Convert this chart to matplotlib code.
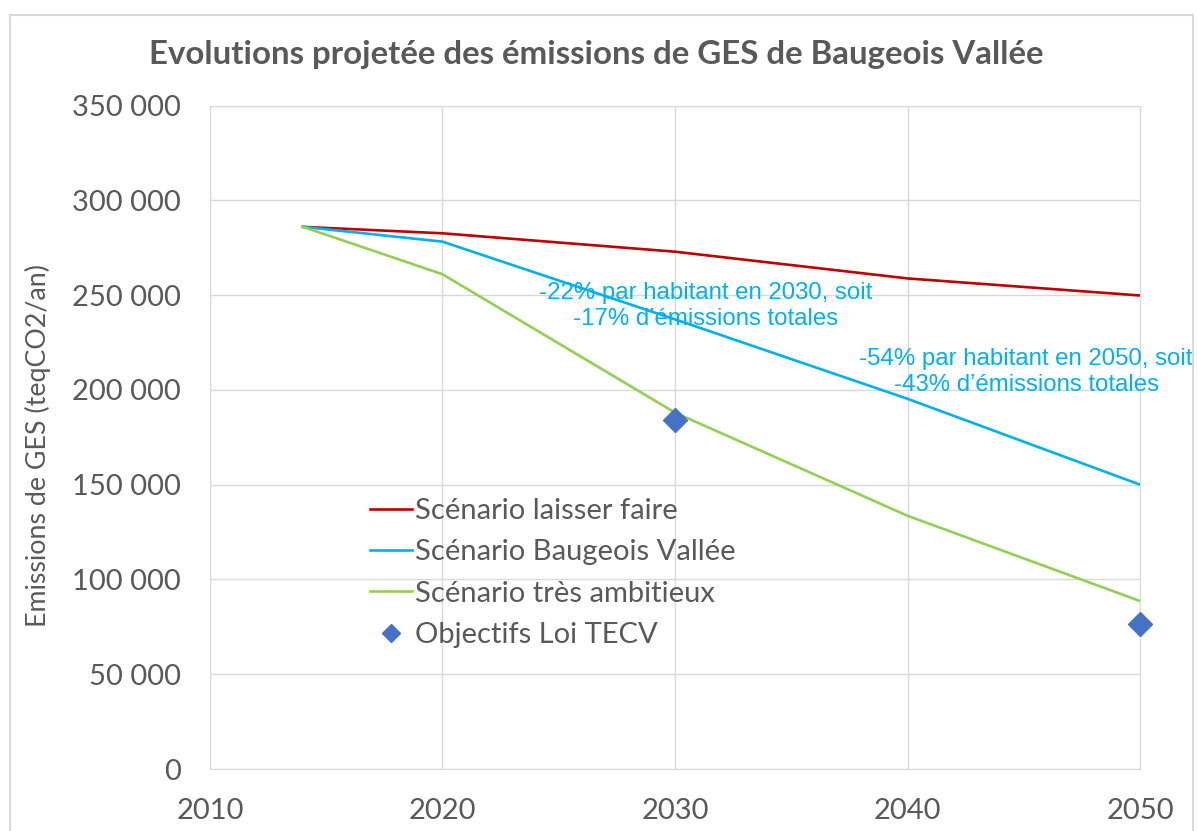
import matplotlib
matplotlib.use('Agg')
import matplotlib.pyplot as plt
from matplotlib.ticker import FuncFormatter
from matplotlib.patches import Rectangle

plt.rcParams['font.family'] = ['Lato', 'DejaVu Sans']

# ========= data
annees = [2014, 2020, 2030, 2040, 2050]
laisser_faire = [286000, 282600, 272900, 258800, 249800]
baugeois = [286000, 278200, 237200, 195300, 150000]
tres_ambitieux = [286000, 261000, 188000, 133600, 88600]
annees_tecv = [2030, 2050]
objectifs_tecv = [184200, 76700]

gris = '#595959'
grille = '#D9D9D9'

fig = plt.figure(figsize=(11.97, 8.31), dpi=100)
ax = fig.add_axes([0.1754, 0.0746, 0.7770, 0.7984])

ax.plot(annees, laisser_faire, color='#C00000', lw=1.9, label='Scénario laisser faire')
ax.plot(annees, baugeois, color='#00B0F0', lw=1.9, label='Scénario Baugeois Vallée')
ax.plot(annees, tres_ambitieux, color='#92D050', lw=1.9, label='Scénario très ambitieux')
ax.plot(annees_tecv, objectifs_tecv, ls='none', marker='D', ms=12, color='#4472C4',
        label='Objectifs Loi TECV', clip_on=False, zorder=5)

ax.set_xlim(2010, 2050)
ax.set_ylim(0, 350000)
ax.set_xticks(range(2010, 2051, 10))
ax.set_yticks(range(0, 350001, 50000))
ax.yaxis.set_major_formatter(FuncFormatter(lambda v, p: f'{int(v):,}'.replace(',', ' ')))
ax.grid(True, color=grille, lw=1)
ax.set_axisbelow(True)
for s in ax.spines.values():
    s.set_color(grille)
ax.tick_params(length=0, labelsize=21, labelcolor=gris)
ax.tick_params(axis='y', pad=21)
ax.tick_params(axis='x', pad=21)
ax.set_ylabel('Emissions de GES (teqCO2/an)', fontsize=19.3, color=gris)
ax.yaxis.set_label_coords(-0.171, 0.487)

fig.text(0.498, 0.935, 'Evolutions projetée des émissions de GES de Baugeois Vallée',
         ha='center', va='center', fontsize=23.8, fontweight='bold', color=gris)

ax.text(2031.3, 244400, '-22% par habitant en 2030, soit\n-17% d\u2019émissions totales',
        ha='center', va='center', fontsize=17.3, color='#00B0F0',
        family='Liberation Sans', linespacing=1.22)
ax.text(2045.1, 209600, '-54% par habitant en 2050, soit\n-43% d\u2019émissions totales',
        ha='center', va='center', fontsize=17.3, color='#00B0F0',
        family='Liberation Sans', linespacing=1.22, clip_on=False)

leg = ax.legend(loc='upper left', bbox_to_anchor=(0.172, 0.408), frameon=False,
                fontsize=21, labelcolor=gris, handlelength=1.45, handletextpad=0.08,
                borderpad=0, borderaxespad=0, labelspacing=0.52, markerscale=0.75)

# cadre exterieur
fig.patches.append(Rectangle((10 / 1197, -0.1), 1183 / 1197, 1.1 - 15 / 831,
                             transform=fig.transFigure, fill=False,
                             edgecolor=grille, lw=1.5, clip_on=False))

plt.savefig('out.png', dpi=100)
